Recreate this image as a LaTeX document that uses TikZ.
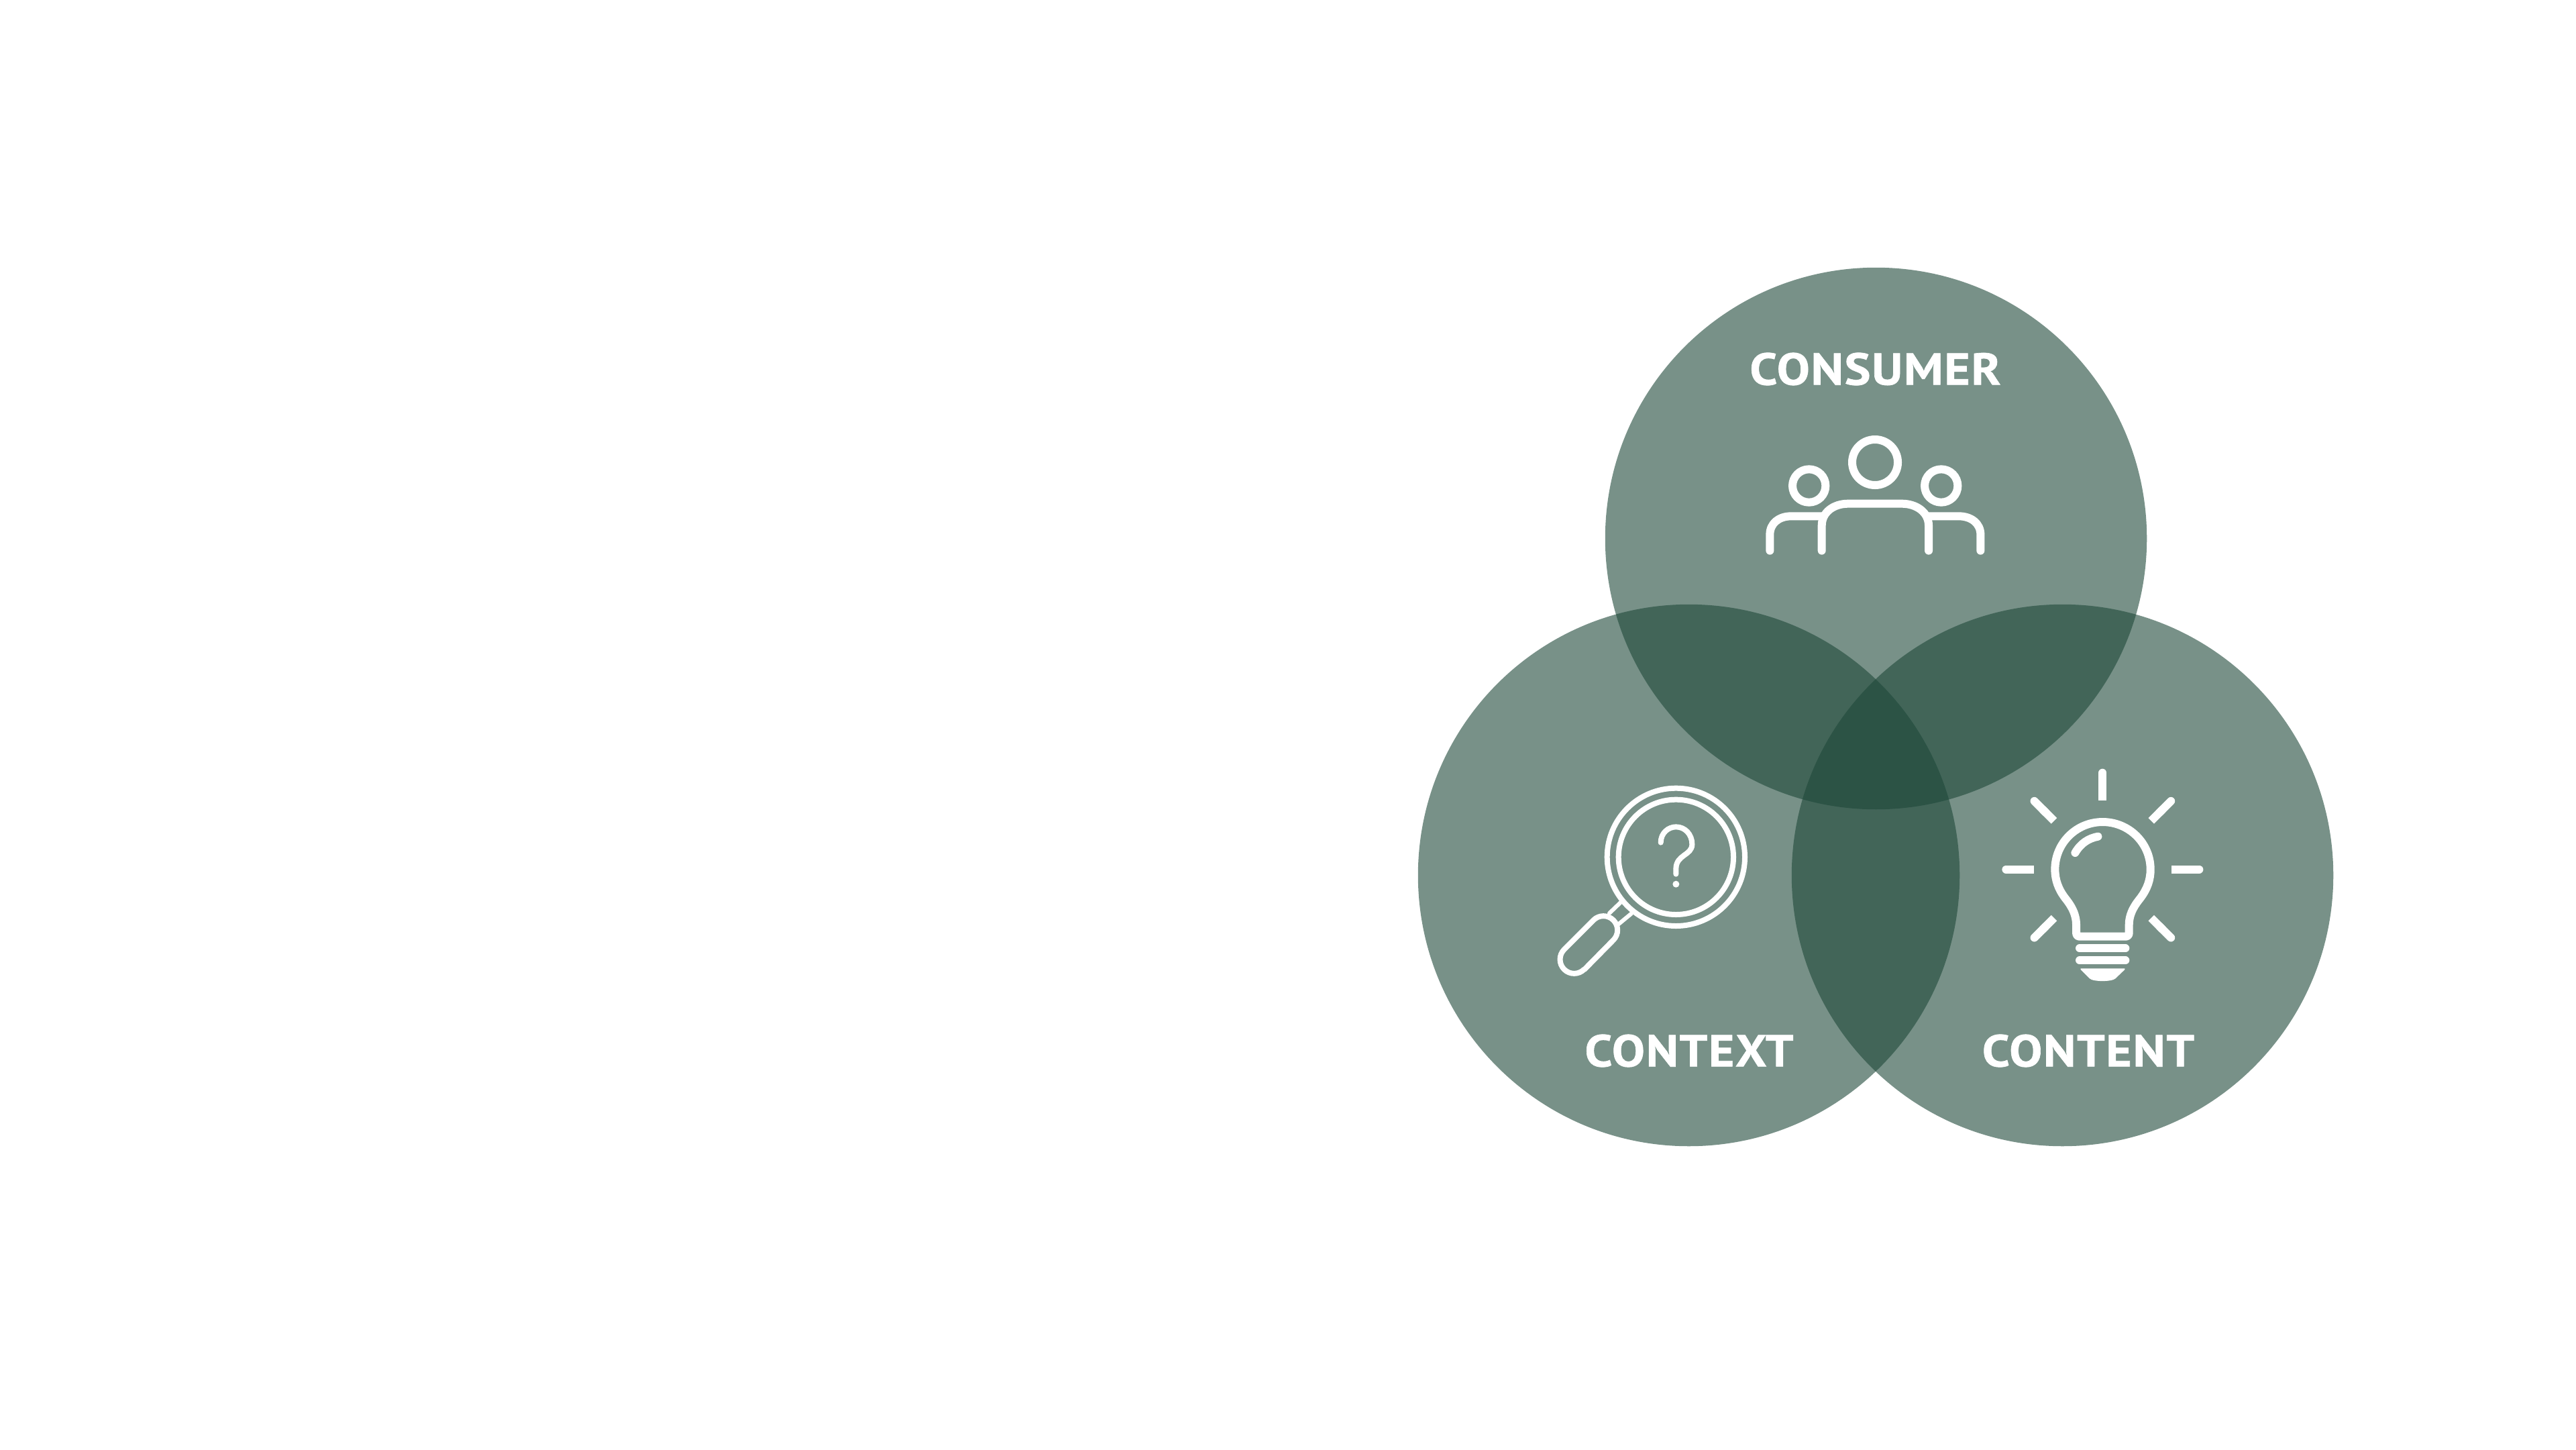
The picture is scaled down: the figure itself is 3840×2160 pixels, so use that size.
\documentclass[tikz,border=0pt]{standalone}
\usepackage{fontspec}
\usetikzlibrary{calc}
\setmainfont{PT Sans}
\newfontfamily\labelfont[LetterSpace=2.5,FakeStretch=1.1,FakeBold=1]{PT Sans}
\definecolor{vennbase}{RGB}{30,72,57}
\tikzset{
  x=0.01cm,y=-0.01cm,
  venn/.style={fill=vennbase,fill opacity=0.6,draw=none,circle,minimum size=8.07cm,inner sep=0pt},
  iconline/.style={draw=white,line width=12*0.2845pt,line cap=round,line join=round},
  thinline/.style={draw=white,line width=8*0.2845pt,line cap=round,line join=round},
  caption/.style={text=white,inner sep=0pt,anchor=center,font=\labelfont\bfseries\fontsize{19}{19}\selectfont},
}
\begin{document}
\begin{tikzpicture}
\useasboundingbox (0,0) rectangle (3840,2160);
\fill[white] (0,0) rectangle (3840,2160);
\node[venn] (top) at (2796.5,802.5) {};
\node[venn] (left) at (2517.5,1304.5) {};
\node[venn] (right) at (3074.5,1304.5) {};
\node[caption] (consumer) at (2795.5,550) {CONSUMER};
\node[caption] (context) at (2518,1566) {CONTEXT};
\node[caption] (content) at (3113,1566) {CONTENT};
% people
\begin{scope}[shift={(2560,480)},x=0.01cm/3,y=-0.01cm/3]
\draw[iconline] (705,627) circle[radius=102];
\draw[iconline] (410,732) circle[radius=74];
\draw[iconline] (1001,732) circle[radius=74];
\draw[iconline] (467,1022) -- (467,910) .. controls (467,850) and (520,812) .. (585,812) -- (825,812) .. controls (890,812) and (945,850) .. (945,910) -- (945,1022);
\draw[iconline] (235,1022) -- (235,950) .. controls (235,900) and (275,868) .. (330,868) -- (470,868);
\draw[iconline] (1177,1022) -- (1177,950) .. controls (1177,900) and (1135,868) .. (1080,868) -- (940,868);
\end{scope}
% magnifier
\begin{scope}[shift={(2280,1140)},x=0.01cm/3,y=-0.01cm/3]
\draw[thinline] (655,412) circle[radius=308];
\draw[thinline] (655,412) circle[radius=257];
\draw[thinline] (587,347) .. controls (587,305) and (620,277) .. (655,277) .. controls (695,277) and (727,310) .. (727,355) .. controls (727,405) and (655,400) .. (655,465) -- (655,488);
\fill[white] (655,533) circle[radius=15];
\draw[thinline] (245,915) -- (375,783) arc[start angle=45,end angle=-135,radius=63] -- (155,825) arc[start angle=225,end angle=45,radius=63] -- cycle;
\draw[thinline,line width=6*0.2845pt] (357,663) -- (410,612);
\draw[thinline,line width=6*0.2845pt] (398,712) -- (455,665);
\end{scope}
% bulb
\begin{scope}[shift={(2960,1130)},x=0.01cm/3,y=-0.01cm/3]
\foreach \a in {0,45,135,180,225,270,315}{
  \draw[iconline] ($(523,497)+(\a:432)$) -- ($(523,497)+(\a:360)$);
  \draw[iconline,line cap=butt] ($(523,497)+(\a:380)$) -- ($(523,497)+(\a:307)$);
}
\draw[iconline] (405,780) -- (405,745) .. controls (405,690) and (375,650) .. (355,625) .. controls (325,585) and (310,545) .. (310,497) .. controls (310,380) and (405,285) .. (523,285) .. controls (641,285) and (737,380) .. (737,497) .. controls (737,545) and (722,585) .. (692,625) .. controls (672,650) and (641,690) .. (641,745) -- (641,780) .. controls (641,790) and (636,797) .. (626,797) -- (420,797) .. controls (410,797) and (405,790) .. (405,780) -- cycle;
\draw[iconline] (400,423) .. controls (425,380) and (460,358) .. (502,350);
\draw[iconline] (420,850) -- (625,850);
\draw[iconline] (420,904) -- (625,904);
\fill[white] (425,940) -- (622,940) -- (622,945) -- (580,985) .. controls (565,1000) and (480,1000) .. (465,985) -- (425,945) -- cycle;
\end{scope}
\end{tikzpicture}
\end{document}
